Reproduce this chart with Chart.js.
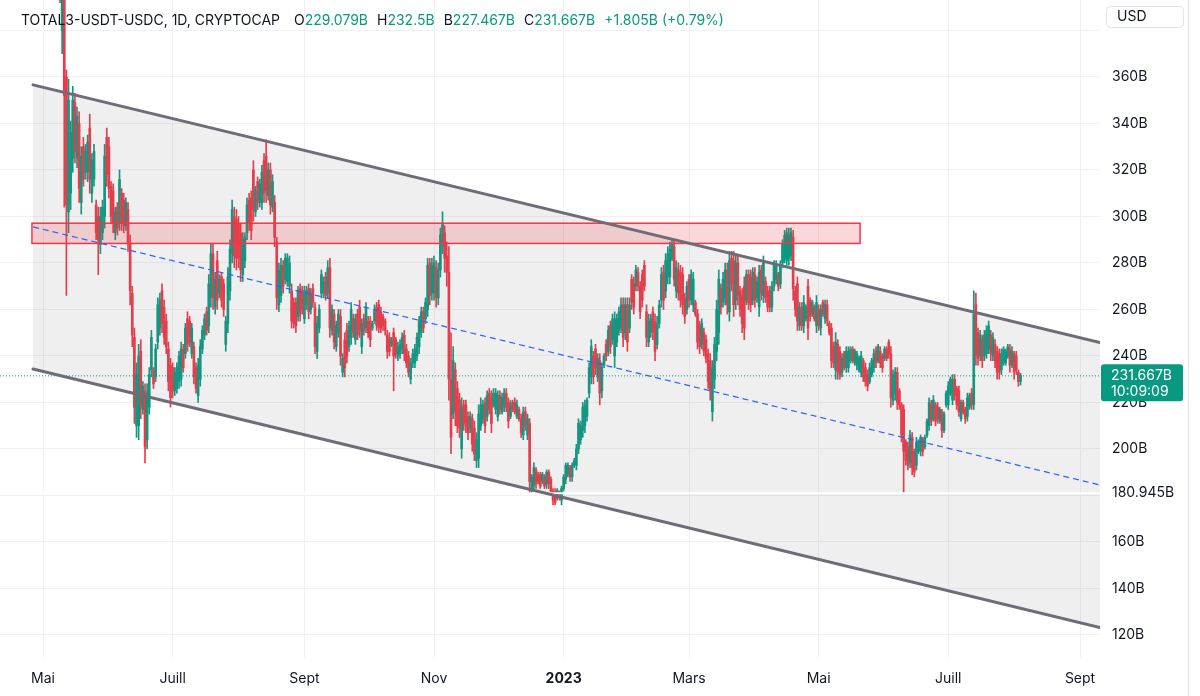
<!DOCTYPE html>
<html>
<head>
<meta charset="utf-8">
<script src="https://cdn.jsdelivr.net/npm/chart.js@4.4.1/dist/chart.umd.min.js"></script>
<style>
  body { margin: 0; background: #fff; }
  #wrap { position: relative; width: 1200px; height: 696px; font-family: Inter, "Noto Sans", sans-serif; }
  #head { position: absolute; left: 21px; top: 11px; font-size: 14px; color: #131722; white-space: nowrap; }
  #head span { margin-right: 9px; }
  #head .sym { margin-right: 14px; }
  #head i { font-style: normal; color: #089981; }
</style>
</head>
<body>
<div id="wrap">
  <canvas id="chart" width="1200" height="696"></canvas>
  <div id="head"><span class="sym">TOTAL3-USDT-USDC, 1D, CRYPTOCAP</span><span>O<i>229.079B</i></span><span>H<i>232.5B</i></span><span>B<i>227.467B</i></span><span>C<i>231.667B</i></span><span><i>+1.805B (+0.79%)</i></span></div>
</div>
<script>
// daily candles, first one on 2022-05-06, values in billions USD
const dayZero = '2022-05-01';
const firstCandle = '2022-05-06';

const opens = [480,468,446,432,380,
402,360,302,310,325,349,325,340,306,330,
319,319,338,310,316,305,300,288,293,300,
334,330,313,311,293,304,297,310,307,296,
303,288,267,248,210,210,242,217,225,204,
218,234,234,231,246,252,268,261,255,243,
236,235,225,226,229,230,243,241,256,255,
241,244,235,223,230,243,249,259,253,265,
284,261,281,267,274,271,245,254,268,284,
300,299,297,293,275,281,293,307,308,320,
302,315,306,306,324,326,309,320,304,306,
289,262,266,279,273,272,270,268,263,263,
257,269,268,256,262,269,260,269,261,242,
252,267,267,274,267,278,251,258,244,250,
257,233,247,251,244,248,256,247,258,261,
244,256,252,255,255,252,255,261,262,259,
257,255,249,248,245,250,247,240,241,243,
249,243,240,230,237,237,240,244,250,259,
256,260,280,267,267,278,265,277,287,293,
283,276,230,215,234,226,221,200,219,219,
214,209,213,209,195,196,210,213,220,214,
224,222,219,217,214,223,216,218,224,220,
214,220,220,214,217,213,206,216,206,211,
183,184,191,189,189,186,188,185,190,187,
182,181,179,181,178,183,187,189,192,188,
193,193,200,204,208,210,214,224,231,240,
243,231,238,225,236,245,242,253,247,240,
246,251,252,262,250,262,252,273,271,270,
276,270,275,279,259,246,250,259,255,245,
254,264,276,268,274,274,282,287,268,277,
276,275,265,260,273,264,262,263,258,253,
245,250,247,241,238,216,230,242,250,269,
263,265,277,259,282,281,264,280,268,266,
270,264,275,274,264,275,265,261,277,266,
272,268,268,261,270,273,275,271,280,282,
281,282,283,291,268,271,253,261,253,256,
270,264,258,261,253,260,252,263,256,262,
254,252,244,234,245,242,233,241,235,235,
238,243,237,236,234,233,238,235,232,229,
232,235,242,238,242,240,239,243,246,241,
221,224,233,225,219,217,203,201,194,205,
199,193,199,199,204,201,206,210,219,213,
219,218,212,216,208,219,219,224,221,230,
226,225,213,220,217,214,218,224,219,262,
250,240,247,240,241,243,249,240,245,242,
241,234,237,237,240,243,236,241,240,233,229.079];

const highs = [488,472,452,436,412,
406,363,359,341,356,353,347,345,330,334,
331,335,344,327,331,307,304,304,307,331,
338,334,315,314,304,306,320,312,310,308,
306,292,270,252,237,245,247,229,228,228,
235,251,235,245,265,267,271,264,258,246,
239,237,235,237,242,246,245,254,259,257,
254,246,237,239,247,253,258,261,275,288,
288,276,285,275,276,273,257,278,290,307,
304,303,300,297,293,293,308,310,311,324,
313,317,316,322,327,333,323,323,318,309,
291,280,282,281,284,284,283,271,265,265,
270,271,270,270,270,271,269,271,263,257,
262,277,274,276,281,282,262,260,255,260,
260,241,250,254,255,263,258,258,260,264,
256,258,263,257,257,255,262,263,264,261,
258,256,251,250,248,252,248,246,247,250,
251,245,242,239,243,245,250,257,261,261,
265,282,282,282,283,281,280,295,302,296,
289,287,250,244,237,229,224,222,221,221,
216,216,215,212,207,219,222,221,222,225,
226,225,226,226,225,225,224,226,226,222,
221,221,222,221,218,215,218,218,215,213,
189,194,192,190,190,190,189,191,191,188,
183,183,183,182,184,189,194,194,193,194,
196,202,213,212,220,221,222,237,247,242,
245,241,241,237,241,247,253,255,258,259,
258,261,265,265,265,265,265,275,274,279,
278,272,277,281,262,258,258,261,258,257,
264,278,279,284,287,289,290,290,281,280,
279,278,267,272,275,277,276,264,260,255,
256,252,249,243,241,238,248,264,277,271,
276,280,280,285,285,285,284,283,270,269,
274,277,277,277,278,278,274,279,279,283,
274,270,270,272,281,281,276,281,290,294,
295,295,295,294,270,274,263,263,266,262,
273,265,264,262,266,262,262,264,264,264,
255,254,246,250,247,244,241,242,244,244,
244,244,243,242,240,242,239,237,234,237,
239,243,244,245,244,241,244,244,247,244,
234,235,235,226,220,219,204,203,208,207,
200,205,204,206,205,206,213,222,221,223,
220,220,218,217,216,225,229,231,232,232,
227,227,221,221,218,224,224,226,268,267,
252,251,249,251,253,255,251,250,247,244,
243,243,244,243,245,245,244,242,242,234,232.5];

const lows = [462,440,428,392,370,
304,266,293,303,319,323,321,306,301,313,
316,315,310,306,313,290,275,284,290,295,
313,308,297,293,290,292,294,294,293,294,
285,262,244,211,205,204,213,215,194,200,
215,231,226,229,243,249,250,245,241,225,
218,222,223,224,226,227,233,239,242,244,
239,228,224,220,227,241,247,249,250,261,
260,258,260,265,261,257,242,250,264,280,
278,277,278,272,272,278,290,294,290,298,
300,303,304,303,306,306,307,301,302,287,
260,259,263,267,271,270,267,252,252,250,
255,255,258,254,260,256,258,261,241,239,
250,265,265,264,265,248,249,243,242,248,
236,231,231,237,242,245,248,245,247,248,
241,249,250,248,244,251,254,251,250,250,
251,249,239,240,244,225,239,238,239,241,
238,235,231,228,235,235,238,241,248,250,
254,257,262,264,264,261,262,274,284,276,
270,221,198,213,210,207,205,196,208,207,
204,207,199,195,192,192,208,211,207,212,
215,207,218,215,212,215,215,216,216,209,
213,216,215,213,212,205,204,208,204,181,
181,182,183,185,183,185,183,183,183,181,
176,176,178,178,176,182,185,188,186,186,
192,191,198,202,205,207,212,222,228,228,
232,229,219,222,235,238,240,241,245,235,
244,249,250,244,247,242,250,260,258,268,
268,256,261,268,244,244,248,247,238,243,
252,261,260,265,271,271,281,270,265,264,
261,258,254,258,261,262,259,257,243,241,
243,240,237,226,221,212,226,238,245,258,
261,262,258,255,268,257,260,262,257,250,
247,262,260,259,262,261,263,257,264,263,
263,259,259,259,268,271,268,269,278,280,
279,279,281,264,257,251,251,251,250,255,
247,255,257,255,250,251,249,257,254,253,
249,235,235,230,230,230,231,234,233,233,
237,237,236,234,233,231,229,227,225,228,
231,233,235,237,235,233,238,238,239,218,
219,221,217,217,203,181,193,191,192,189,
188,191,198,197,197,200,205,208,210,212,
210,211,211,205,207,218,217,223,219,221,
217,214,212,215,211,212,217,217,217,236,
236,238,235,238,239,241,238,238,235,230,
230,232,236,236,239,233,235,230,232,227,227.467];

const closes = [468,446,432,396,404,
352,305,350,336,350,328,343,312,326,316,
328,332,316,324,328,293,290,300,304,326,
318,312,300,297,302,295,316,297,296,306,
289,268,249,218,232,240,218,227,201,224,
232,248,228,243,262,264,254,248,244,229,
222,225,233,235,240,243,235,252,245,246,
252,231,226,236,244,251,256,251,271,284,
265,273,264,273,264,260,255,274,286,303,
283,282,282,277,290,291,305,297,294,303,
311,306,314,319,310,311,320,305,315,291,
265,277,279,270,282,282,280,255,254,253,
268,258,260,268,268,259,267,263,244,254,
260,275,272,266,278,252,260,246,253,258,
240,239,235,240,253,260,250,256,249,251,
254,251,261,250,247,254,260,253,252,252,
253,251,242,242,247,240,241,244,245,248,
241,237,233,237,241,243,248,255,259,252,
263,279,266,279,280,265,277,292,297,282,
276,230,205,238,216,210,209,218,211,210,
207,214,202,198,204,215,219,219,210,223,
217,211,224,224,223,217,222,224,218,212,
219,217,216,219,213,207,216,210,213,186,
188,192,185,186,184,189,184,190,185,182,
178,177,182,179,183,188,193,193,188,193,
195,200,211,210,218,219,221,235,244,231,
235,239,224,235,240,240,251,244,256,256,
256,259,262,248,262,246,262,263,261,277,
270,259,264,270,248,255,256,250,242,254,
262,275,264,281,284,286,288,273,278,267,
264,262,257,270,264,275,273,258,246,244,
254,242,239,229,225,235,245,260,273,261,
273,277,262,281,271,262,280,266,260,254,
252,275,263,262,276,264,272,276,267,280,
265,261,261,270,279,279,270,279,288,292,
293,292,293,269,260,255,261,253,263,261,
252,257,263,256,263,253,260,258,262,255,
250,238,237,246,233,232,239,235,242,242,
243,238,242,241,239,240,231,229,227,235,
238,241,237,244,237,235,243,239,241,222,
232,233,220,219,206,199,195,193,206,192,
190,203,203,205,199,205,212,220,212,221,
212,213,217,208,215,224,227,230,230,223,
219,216,220,216,213,222,223,219,258,240,
239,249,238,249,251,253,241,248,238,233,
233,241,243,242,244,236,242,233,234,229,231.667];

// time axis
const tickDates = ['2022-05-01','2022-07-01','2022-09-01','2022-11-01','2023-01-01','2023-03-01','2023-05-01','2023-07-01','2023-09-01'];
const tickLabels = ['Mai','Juill','Sept','Nov','2023','Mars','Mai','Juill','Sept'];
const priceTicks = [120,140,160,180,200,220,240,260,280,300,320,340,360,380];

// drawings: [day since dayZero, price]
const channelUpper = [[-4.7, 356.6], [497.4, 245.8]];
const channelLower = [[-4.7, 234.4], [497.4, 123.2]];
const channelMid   = [[-4.7, 295.5], [497.4, 184.5]];
const zoneDays = [-5.2, 384.5];
const zonePrices = [288.4, 297.1];
const lastPrice = 231.667;
const lastTimer = '10:09:09';
const levelPrice = 180.945;

const UP = '#089981', DOWN = '#f23645';
const FONT = 'Inter, "Noto Sans", sans-serif';

const dayOf = s => (Date.parse(s) - Date.parse(dayZero)) / 86400000;
const first = dayOf(firstCandle);
const bodies = [], wicks = [], colors = [];
opens.forEach((o, i) => {
  bodies.push({ x: first + i, y: [o, closes[i]] });
  wicks.push({ x: first + i, y: [lows[i], highs[i]] });
  colors.push(closes[i] >= o ? UP : DOWN);
});
const tickDays = tickDates.map(dayOf);

function seg(ctx, a, b) {
  ctx.beginPath();
  ctx.moveTo(a[0], a[1]);
  ctx.lineTo(b[0], b[1]);
  ctx.stroke();
}

const overlay = {
  id: 'overlay',
  afterDatasetsDraw(chart) {
    const { ctx, chartArea: a, scales: { x, y } } = chart;
    const px = p => [x.getPixelForValue(p[0]), y.getPixelForValue(p[1])];
    ctx.save();
    ctx.beginPath();
    ctx.rect(a.left, a.top, a.right - a.left, a.bottom - a.top);
    ctx.clip();

    // channel body
    const up = channelUpper.map(px), lo = channelLower.map(px);
    ctx.fillStyle = 'rgba(120,123,134,0.12)';
    ctx.beginPath();
    ctx.moveTo(up[0][0], up[0][1]);
    ctx.lineTo(up[1][0], up[1][1]);
    ctx.lineTo(lo[1][0], lo[1][1]);
    ctx.lineTo(lo[0][0], lo[0][1]);
    ctx.closePath();
    ctx.fill();

    // horizontal level (white)
    const yl = y.getPixelForValue(levelPrice);
    ctx.strokeStyle = '#ffffff';
    ctx.lineWidth = 2;
    seg(ctx, [a.left, yl], [a.right, yl]);

    // resistance zone
    const zx0 = x.getPixelForValue(zoneDays[0]), zx1 = x.getPixelForValue(zoneDays[1]);
    const zy0 = y.getPixelForValue(zonePrices[1]), zy1 = y.getPixelForValue(zonePrices[0]);
    ctx.fillStyle = 'rgba(242,54,69,0.2)';
    ctx.fillRect(zx0, zy0, zx1 - zx0, zy1 - zy0);
    ctx.strokeStyle = '#f23645';
    ctx.lineWidth = 1.5;
    ctx.strokeRect(zx0, zy0, zx1 - zx0, zy1 - zy0);

    // channel borders
    ctx.strokeStyle = '#6f6c77';
    ctx.lineWidth = 3;
    ctx.lineCap = 'round';
    seg(ctx, up[0], up[1]);
    seg(ctx, lo[0], lo[1]);

    // middle dashed
    ctx.strokeStyle = '#2962ff';
    ctx.lineWidth = 1.2;
    ctx.lineCap = 'butt';
    ctx.setLineDash([6, 4]);
    seg(ctx, px(channelMid[0]), px(channelMid[1]));

    // last price dotted
    const yp = y.getPixelForValue(lastPrice);
    ctx.strokeStyle = UP;
    ctx.lineWidth = 1;
    ctx.setLineDash([1, 2]);
    seg(ctx, [a.left, yp + 0.5], [a.right, yp + 0.5]);
    ctx.restore();
  },
  afterDraw(chart) {
    const { ctx, scales: { y } } = chart;
    const left = y.left;
    ctx.save();
    ctx.font = '14px ' + FONT;
    ctx.textBaseline = 'middle';
    ctx.textAlign = 'left';

    // level label
    const yl = y.getPixelForValue(levelPrice);
    ctx.fillStyle = '#ffffff';
    ctx.fillRect(left + 1, yl - 10, 82, 20);
    ctx.fillStyle = '#131722';
    ctx.fillText(levelPrice.toFixed(3) + 'B', left + 12, yl);

    // last price label
    const yp = y.getPixelForValue(lastPrice);
    ctx.fillStyle = UP;
    ctx.beginPath();
    ctx.roundRect(left + 1, yp - 11, 82, 37, 3);
    ctx.fill();
    ctx.fillStyle = '#ffffff';
    ctx.fillText(lastPrice.toFixed(3) + 'B', left + 11, yp);
    ctx.fillText(lastTimer, left + 11, yp + 16);

    // currency box
    ctx.strokeStyle = '#e0e3eb';
    ctx.lineWidth = 1;
    ctx.beginPath();
    ctx.roundRect(left + 6.5, 6.5, 77, 21, 4);
    ctx.stroke();
    ctx.fillStyle = '#131722';
    ctx.fillText('USD', left + 17, 17);

    // panel border
    ctx.beginPath();
    ctx.moveTo(left + 88.5, 0);
    ctx.lineTo(left + 88.5, chart.height);
    ctx.stroke();
    ctx.restore();
  }
};

Chart.defaults.font.family = FONT;
Chart.defaults.font.size = 14;
Chart.defaults.color = '#131722';

new Chart(document.getElementById('chart'), {
  type: 'bar',
  data: {
    datasets: [
      { data: bodies, backgroundColor: colors, barThickness: 2, minBarLength: 1, grouped: false, order: 0 },
      { data: wicks, backgroundColor: colors, barThickness: 1, grouped: false, order: 1 }
    ]
  },
  options: {
    responsive: false,
    animation: false,
    devicePixelRatio: 1,
    layout: { padding: 0, autoPadding: false },
    plugins: { legend: { display: false }, tooltip: { enabled: false } },
    scales: {
      x: {
        type: 'linear',
        min: -20.24,
        max: 497.4,
        offset: false,
        border: { display: false },
        grid: { color: '#eff1f4', drawTicks: false, offset: false },
        ticks: {
          padding: 12,
          maxRotation: 0,
          autoSkip: false,
          font: c => ({ size: 14, family: FONT, weight: c.tick && c.tick.label === '2023' ? 'bold' : 'normal' }),
          callback: (v, i) => tickLabels[i]
        },
        afterBuildTicks: s => { s.ticks = tickDays.map(v => ({ value: v })); },
        afterFit: s => { s.height = 38; s.paddingLeft = 0; s.paddingRight = 0; }
      },
      y: {
        position: 'right',
        min: 110.1,
        max: 393.1,
        border: { display: false },
        grid: { color: '#eff1f4', drawTicks: false },
        ticks: {
          padding: 12,
          callback: v => v === 380 ? '' : v + 'B'
        },
        afterBuildTicks: s => { s.ticks = priceTicks.map(v => ({ value: v })); },
        afterFit: s => { s.width = 100; s.paddingTop = 0; s.paddingBottom = 0; }
      }
    }
  },
  plugins: [overlay]
});
</script>
</body>
</html>
